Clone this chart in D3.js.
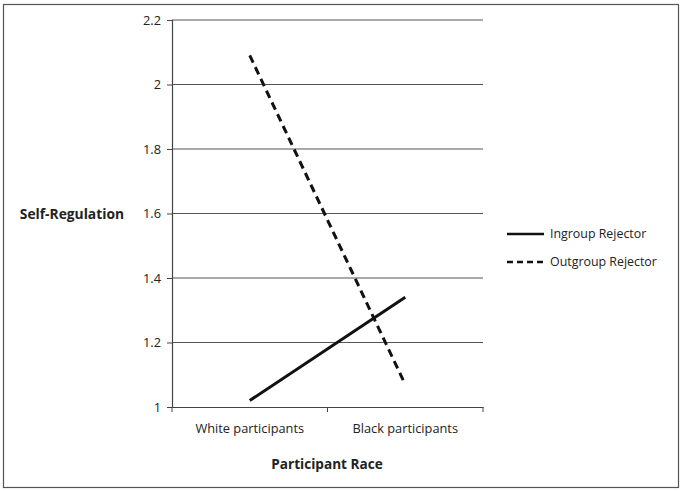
<!DOCTYPE html>
<html>
<head>
<meta charset="utf-8">
<script src="https://d3js.org/d3.v7.min.js"></script>
<style>
body { margin: 0; background: white; }
text { font-family: "Open Sans", sans-serif; fill: #222; }
</style>
</head>
<body>
<div id="chart"></div>
<script>
// data
var groups = ["White participants", "Black participants"];
var ingroup = [1.02, 1.34];
var outgroup = [2.09, 1.07];
var yTicks = [1, 1.2, 1.4, 1.6, 1.8, 2, 2.2];
var seriesNames = ["Ingroup Rejector", "Outgroup Rejector"];

var W = 682, H = 491;
var margin = {top: 20, left: 172, right: 199, bottom: 84};

var svg = d3.select("#chart")
  .append("svg")
    .attr("width", W)
    .attr("height", H);

// outer frame
svg.append("rect")
  .attr("x", 3.5).attr("y", 4.5)
  .attr("width", 675).attr("height", 483)
  .attr("fill", "none")
  .attr("stroke", "#555")
  .attr("stroke-width", 1.2);

var x = d3.scaleBand()
  .domain(groups)
  .range([margin.left, W - margin.right]);

var y = d3.scaleLinear()
  .domain([1, 2.2])
  .range([H - margin.bottom, margin.top]);

// gridlines
svg.append("g")
  .selectAll("line")
  .data(yTicks.slice(1))
  .enter()
  .append("line")
    .attr("x1", margin.left)
    .attr("x2", W - margin.right)
    .attr("y1", function(d) { return y(d); })
    .attr("y2", function(d) { return y(d); })
    .attr("stroke", "#555")
    .attr("stroke-width", 1.1);

var yAxis = svg.append("g")
  .attr("transform", "translate(" + margin.left + ",0)")
  .call(d3.axisLeft(y).tickValues(yTicks).tickFormat(function(d) { return d3.format("")(d); }).tickSize(5).tickPadding(6));

var xAxis = svg.append("g")
  .attr("transform", "translate(0," + y(1) + ")")
  .call(d3.axisBottom(x).tickSize(0).tickPadding(17));

// x ticks at band edges
svg.append("g")
  .selectAll("line")
  .data([0, 1, 2])
  .enter()
  .append("line")
    .attr("x1", function(i) { return margin.left + i * x.step(); })
    .attr("x2", function(i) { return margin.left + i * x.step(); })
    .attr("y1", y(1))
    .attr("y2", y(1) + 5)
    .attr("stroke", "#444");

svg.selectAll(".domain").attr("stroke", "#444").attr("stroke-width", 1.2);
svg.selectAll(".tick line").attr("stroke", "#444");
svg.selectAll(".tick text")
  .style("font-family", "'Open Sans', sans-serif")
  .style("font-size", "12.8px")
  .attr("fill", "#1a1a1a");

var line = d3.line()
  .x(function(d, i) { return x(groups[i]) + x.bandwidth() / 2; })
  .y(function(d) { return y(d); });

svg.append("path")
  .datum(ingroup)
  .attr("d", line)
  .attr("fill", "none")
  .attr("stroke", "#111")
  .attr("stroke-width", 3);

svg.append("path")
  .datum(outgroup)
  .attr("d", line)
  .attr("fill", "none")
  .attr("stroke", "#111")
  .attr("stroke-width", 3)
  .attr("stroke-dasharray", "8,5");

// axis titles
svg.append("text")
  .attr("x", 124).attr("y", 219)
  .attr("text-anchor", "end")
  .style("font-size", "13.8px")
  .style("font-weight", "bold")
  .attr("fill", "#111")
  .text("Self-Regulation");

svg.append("text")
  .attr("x", 327).attr("y", 469)
  .attr("text-anchor", "middle")
  .style("font-size", "13.6px")
  .style("font-weight", "bold")
  .attr("fill", "#111")
  .text("Participant Race");

// legend
var legend = svg.append("g")
  .selectAll("g")
  .data(seriesNames)
  .enter()
  .append("g")
    .attr("transform", function(d, i) { return "translate(507," + (234 + i * 28) + ")"; });

legend.append("line")
  .attr("x1", 0).attr("x2", 37)
  .attr("stroke", "#111")
  .attr("stroke-width", 2.5)
  .attr("stroke-dasharray", function(d, i) { return i ? "6,4" : null; });

legend.append("text")
  .attr("x", 43)
  .attr("dy", "0.35em")
  .style("font-size", "12.4px")
  .text(function(d) { return d; });
</script>
</body>
</html>
